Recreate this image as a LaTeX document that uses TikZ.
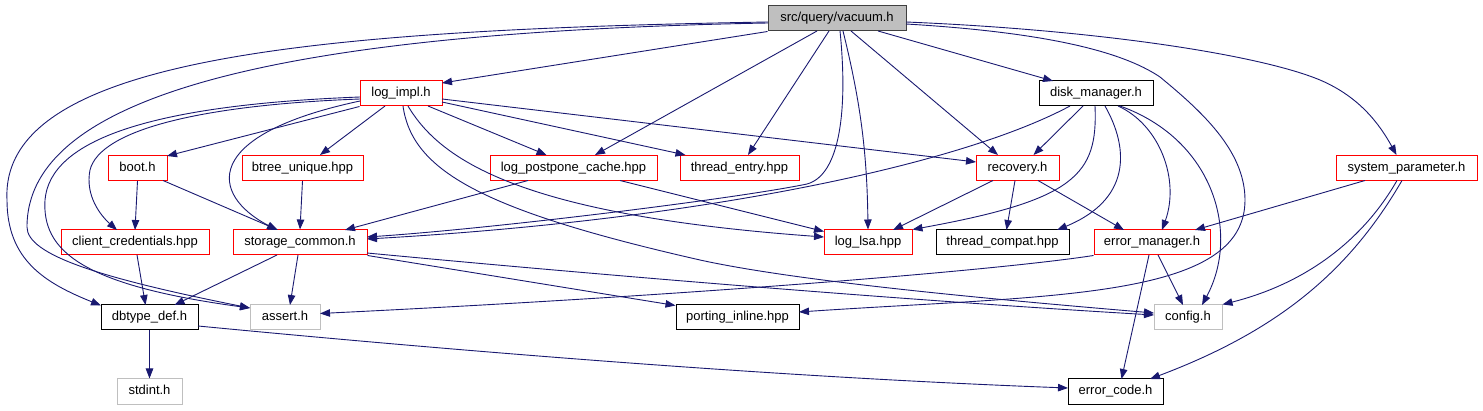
\documentclass[tikz,border=0pt]{standalone}
\usepackage{fontspec}
\setmainfont{Liberation Sans}
\usetikzlibrary{arrows.meta,calc}
\definecolor{edgeblue}{HTML}{191970}
\definecolor{boxgray}{HTML}{BFBFBF}
\definecolor{boxdark}{HTML}{404040}
\begin{document}
\begin{tikzpicture}[x=1pt,y=-1pt,
  box/.style={draw, fill=white, line width=1pt, minimum height=25pt, inner sep=0pt,
    font=\fontsize{13}{15}\selectfont, text height=9.5pt, text depth=2.5pt},
  redbox/.style={box, draw=red},
  blackbox/.style={box, draw=black},
  graybox/.style={box, draw=boxgray},
  rootbox/.style={box, draw=boxdark, fill=boxgray},
  edge/.style={draw=edgeblue, line width=0.9pt, -{Triangle[length=10pt,width=7.5pt]}}]
\useasboundingbox (0,0) rectangle (1483,411);
% nodes
\node[rootbox, minimum width=138pt] (vac) at (837,18.5) {src/query/vacuum.h};
\node[redbox, minimum width=82pt] (logimpl) at (401,93.5) {log\_impl.h};
\node[blackbox, minimum width=114pt] (disk) at (1096,93.5) {disk\_manager.h};
\node[redbox, minimum width=59pt] (boot) at (137.5,168) {boot.h};
\node[redbox, minimum width=121pt] (btree) at (302.5,168) {btree\_unique.hpp};
\node[redbox, minimum width=167pt] (lpc) at (573.5,168) {log\_postpone\_cache.hpp};
\node[redbox, minimum width=119pt] (tentry) at (739.5,168) {thread\_entry.hpp};
\node[redbox, minimum width=83pt] (recov) at (1017.5,168) {recovery.h};
\node[redbox, minimum width=141pt] (sysparam) at (1406.5,168) {system\_parameter.h};
\node[redbox, minimum width=148pt] (cc) at (135,242.5) {client\_credentials.hpp};
\node[redbox, minimum width=134pt] (sc) at (300,242.5) {storage\_common.h};
\node[redbox, minimum width=88pt] (lsa) at (868,242.5) {log\_lsa.hpp};
\node[blackbox, minimum width=133pt] (tcompat) at (1002.5,242.5) {thread\_compat.hpp};
\node[redbox, minimum width=116pt] (errm) at (1152,242.5) {error\_manager.h};
\node[blackbox, minimum width=97pt] (dbtype) at (149.5,317.5) {dbtype\_def.h};
\node[graybox, minimum width=70pt] (assert) at (285,317.5) {assert.h};
\node[blackbox, minimum width=123pt] (porting) at (737.5,317.5) {porting\_inline.hpp};
\node[graybox, minimum width=68pt] (config) at (1188,317.5) {config.h};
\node[graybox, minimum width=65pt] (stdint) at (149.5,391.5) {stdint.h};
\node[blackbox, minimum width=95pt] (errcode) at (1115.5,391.5) {error\_code.h};
% edges from vacuum.h
\draw[edge] (vac.south west) -- ($(logimpl)+(41,-10.5)$);
\draw[edge] ($(vac)+(-69,3.5)$) .. controls (300,30) and (0,60) .. (7,200) .. controls (7,260) and (45,283) .. ($(dbtype)+(-48.5,-12)$);
\draw[edge] ($(vac)+(-69,4.5)$) .. controls (280,32) and (27,95) .. (27,227) .. controls (27,255) and (100,278) .. ($(assert)+(-35,-9.5)$);
\draw[edge] ($(vac)+(-20,12.5)$) -- ($(lpc)+(21.5,-13)$);
\draw[edge] ($(vac)+(-8,12.5)$) -- ($(tentry)+(8.5,-13)$);
\draw[edge] ($(vac)+(3,12.5)$) .. controls (848,110) and (840,175) .. (807,184) .. controls (740,198) and (500,228) .. ($(sc)+(67,-5.5)$);
\draw[edge] ($(vac)+(6,12.5)$) .. controls (860,100) and (867,150) .. (lsa.north);
\draw[edge] ($(vac)+(14,12.5)$) -- ($(recov)+(-19.5,-13)$);
\draw[edge] ($(vac)+(41,12.5)$) -- ($(disk)+(-43,-12.5)$);
\draw[edge] ($(vac)+(69,5.5)$) .. controls (1040,32) and (1120,50) .. (1160,77) .. controls (1200,110) and (1245,150) .. (1245,200) .. controls (1245,300) and (1050,295) .. ($(porting)+(61.5,-5.5)$);
\draw[edge] ($(vac)+(69,3.5)$) .. controls (1100,30) and (1260,55) .. (1320,80) .. controls (1360,97) and (1380,125) .. ($(sysparam)+(-10,-13)$);
% edges from log_impl.h
\draw[edge] (logimpl.south west) -- ($(boot)+(29.5,-12)$);
\draw[edge] ($(logimpl)+(-16,12.5)$) -- ($(btree)+(17.5,-13)$);
\draw[edge] ($(logimpl)+(-41,7.5)$) .. controls (200,135) and (210,195) .. ($(sc)+(-23,-12.5)$);
\draw[edge] ($(logimpl)+(-41,5.5)$) .. controls (200,105) and (100,130) .. (90,170) .. controls (85,195) and (100,215) .. ($(cc)+(-18,-12.5)$);
\draw[edge] ($(logimpl)+(-41,3.5)$) .. controls (150,105) and (50,140) .. (45,200) .. controls (42,250) and (80,285) .. ($(assert)+(-35,-9.5)$);
\draw[edge] ($(logimpl)+(27,12.5)$) -- ($(lpc)+(-27,-13)$);
\draw[edge] ($(logimpl)+(41,8.5)$) -- ($(tentry)+(-54,-13)$);
\draw[edge] ($(logimpl)+(41,5.5)$) -- ($(recov)+(-41.5,-6)$);
\draw[edge] ($(logimpl)+(7,12.5)$) .. controls (440,160) and (520,215) .. ($(lsa)+(-44,-5.5)$);
\draw[edge] ($(logimpl)+(2,12.5)$) .. controls (412,170) and (480,210) .. (700,260) .. controls (800,282) and (1000,300) .. ($(config)+(-34,-4.5)$);
% other edges
\draw[edge] (boot.south) -- ($(cc)+(0,-12.5)$);
\draw[edge] ($(boot)+(25.5,12.5)$) -- ($(sc)+(-22,-12.5)$);
\draw[edge] (btree.south) -- (sc.north);
\draw[edge] ($(lpc)+(-45.5,12.5)$) -- ($(sc)+(45,-12.5)$);
\draw[edge] ($(lpc)+(46.5,12.5)$) -- ($(lsa)+(-44,-11)$);
\draw[edge] ($(cc)+(2,12.5)$) -- ($(dbtype)+(-4,-12.5)$);
\draw[edge] ($(sc)+(-23,12.5)$) -- ($(dbtype)+(25,-12.5)$);
\draw[edge] ($(sc)+(-2,12.5)$) -- ($(assert)+(5,-12.5)$);
\draw[edge] (sc.south east) -- ($(porting)+(-62,-12)$);
\draw[edge] ($(sc)+(67,10.5)$) .. controls (600,275) and (900,300) .. ($(config)+(-34,-2.5)$);
\draw[edge] (dbtype.south) -- (stdint.north);
\draw[edge] ($(dbtype)+(48.5,8.5)$) .. controls (500,355) and (800,378) .. ($(errcode)+(-47.5,-3.5)$);
\draw[edge] ($(disk)+(-26,12.5)$) .. controls (960,165) and (700,220) .. ($(sc)+(67,-3.5)$);
\draw[edge] ($(disk)+(-13,12.5)$) -- ($(recov)+(16,-13)$);
\draw[edge] ($(disk)+(-1,12.5)$) .. controls (1098,175) and (1075,200) .. (lsa.north east);
\draw[edge] ($(disk)+(9,12.5)$) .. controls (1130,150) and (1130,200) .. ($(tcompat)+(54.5,-12.5)$);
\draw[edge] ($(disk)+(22,12.5)$) .. controls (1160,125) and (1180,180) .. ($(errm)+(10,-12.5)$);
\draw[edge] ($(disk)+(24,12.5)$) .. controls (1215,140) and (1240,235) .. ($(config)+(14,-12.5)$);
\draw[edge] ($(recov)+(-24.5,12.5)$) -- ($(lsa)+(25,-12.5)$);
\draw[edge] ($(recov)+(-2.5,12.5)$) -- ($(tcompat)+(4,-12.5)$);
\draw[edge] ($(recov)+(20.5,12.5)$) -- ($(errm)+(-28,-12.5)$);
\draw[edge] ($(sysparam)+(-41.5,12.5)$) -- ($(errm)+(43,-12.5)$);
\draw[edge] ($(sysparam)+(-9.5,12.5)$) .. controls (1360,245) and (1300,285) .. (config.north east);
\draw[edge] ($(sysparam)+(-4.5,12.5)$) .. controls (1350,270) and (1280,330) .. ($(errcode)+(34.5,-12.5)$);
\draw[edge] (errm.south west) .. controls (1000,270) and (700,295) .. ($(assert)+(35,-4)$);
\draw[edge] ($(errm)+(6,12.5)$) -- ($(config)+(-5,-12.5)$);
\draw[edge] ($(errm)+(-3,12.5)$) -- ($(errcode)+(6,-12.5)$);
\end{tikzpicture}
\end{document}
